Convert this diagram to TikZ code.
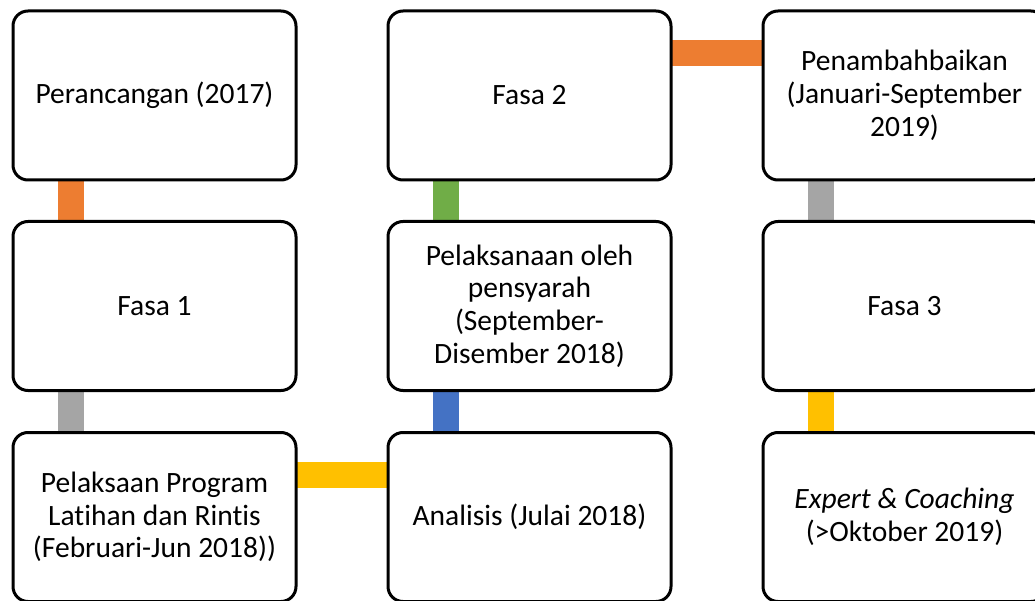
\documentclass[tikz,border=0pt]{standalone}
\usepackage{fontspec}
\setmainfont[Ligatures={NoCommon}]{Carlito}
\usetikzlibrary{backgrounds,calc}
\definecolor{corange}{HTML}{ED7D31}
\definecolor{cgray}{HTML}{A5A5A5}
\definecolor{cyellow}{HTML}{FFC000}
\definecolor{cblue}{HTML}{4472C4}
\definecolor{cgreen}{HTML}{70AD47}
\tikzset{
  stagebox/.style={draw=black, line width=3pt, fill=white, rounded corners=15pt,
    minimum width=283pt, minimum height=169pt, inner sep=0pt, outer sep=0pt,
    align=center, font=\fontsize{29.5}{32.7}\selectfont},
  conn/.style={line width=26pt}
}
\begin{document}
\begin{tikzpicture}[x=1pt,y=-1pt]
\useasboundingbox (0,0) rectangle (1035,601);
\clip (0,0) rectangle (1035,601);
\node[stagebox] (a1) at (154.5,95.5) {Perancangan (2017)};
\node[stagebox] (a2) at (154.5,306) {Fasa 1};
\node[stagebox] (a3) at (154.5,517) {Pelaksaan Program\\Latihan dan Rintis\\(Februari-Jun 2018))};
\node[stagebox] (b1) at (529.5,95.5) {Fasa 2};
\node[stagebox] (b2) at (529.5,306) {Pelaksanaan oleh\\pensyarah\\(September-\\Disember 2018)};
\node[stagebox] (b3) at (529.5,517) {Analisis (Julai 2018)};
\node[stagebox] (c1) at (904.5,95.5) {Penambahbaikan\\(Januari-September\\2019)};
\node[stagebox] (c2) at (904.5,306) {Fasa 3};
\node[stagebox] (c3) at (904.5,517) {\textit{Expert \& Coaching}\\(>Oktober 2019)};
\begin{scope}[on background layer]
\draw[conn,corange] ($(a1.south west)+(58,0)$) -- ($(a2.north west)+(58,0)$);
\draw[conn,cgray] ($(a2.south west)+(58,0)$) -- ($(a3.north west)+(58,0)$);
\draw[conn,cyellow] ($(a3.north east)+(0,42)$) -- ($(b3.north west)+(0,42)$);
\draw[conn,cblue] ($(b3.north west)+(58,0)$) -- ($(b2.south west)+(58,0)$);
\draw[conn,cgreen] ($(b2.north west)+(58,0)$) -- ($(b1.south west)+(58,0)$);
\draw[conn,corange] ($(b1.north east)+(0,42)$) -- ($(c1.north west)+(0,42)$);
\draw[conn,cgray] ($(c1.south west)+(58,0)$) -- ($(c2.north west)+(58,0)$);
\draw[conn,cyellow] ($(c2.south west)+(58,0)$) -- ($(c3.north west)+(58,0)$);
\end{scope}
\end{tikzpicture}
\end{document}
